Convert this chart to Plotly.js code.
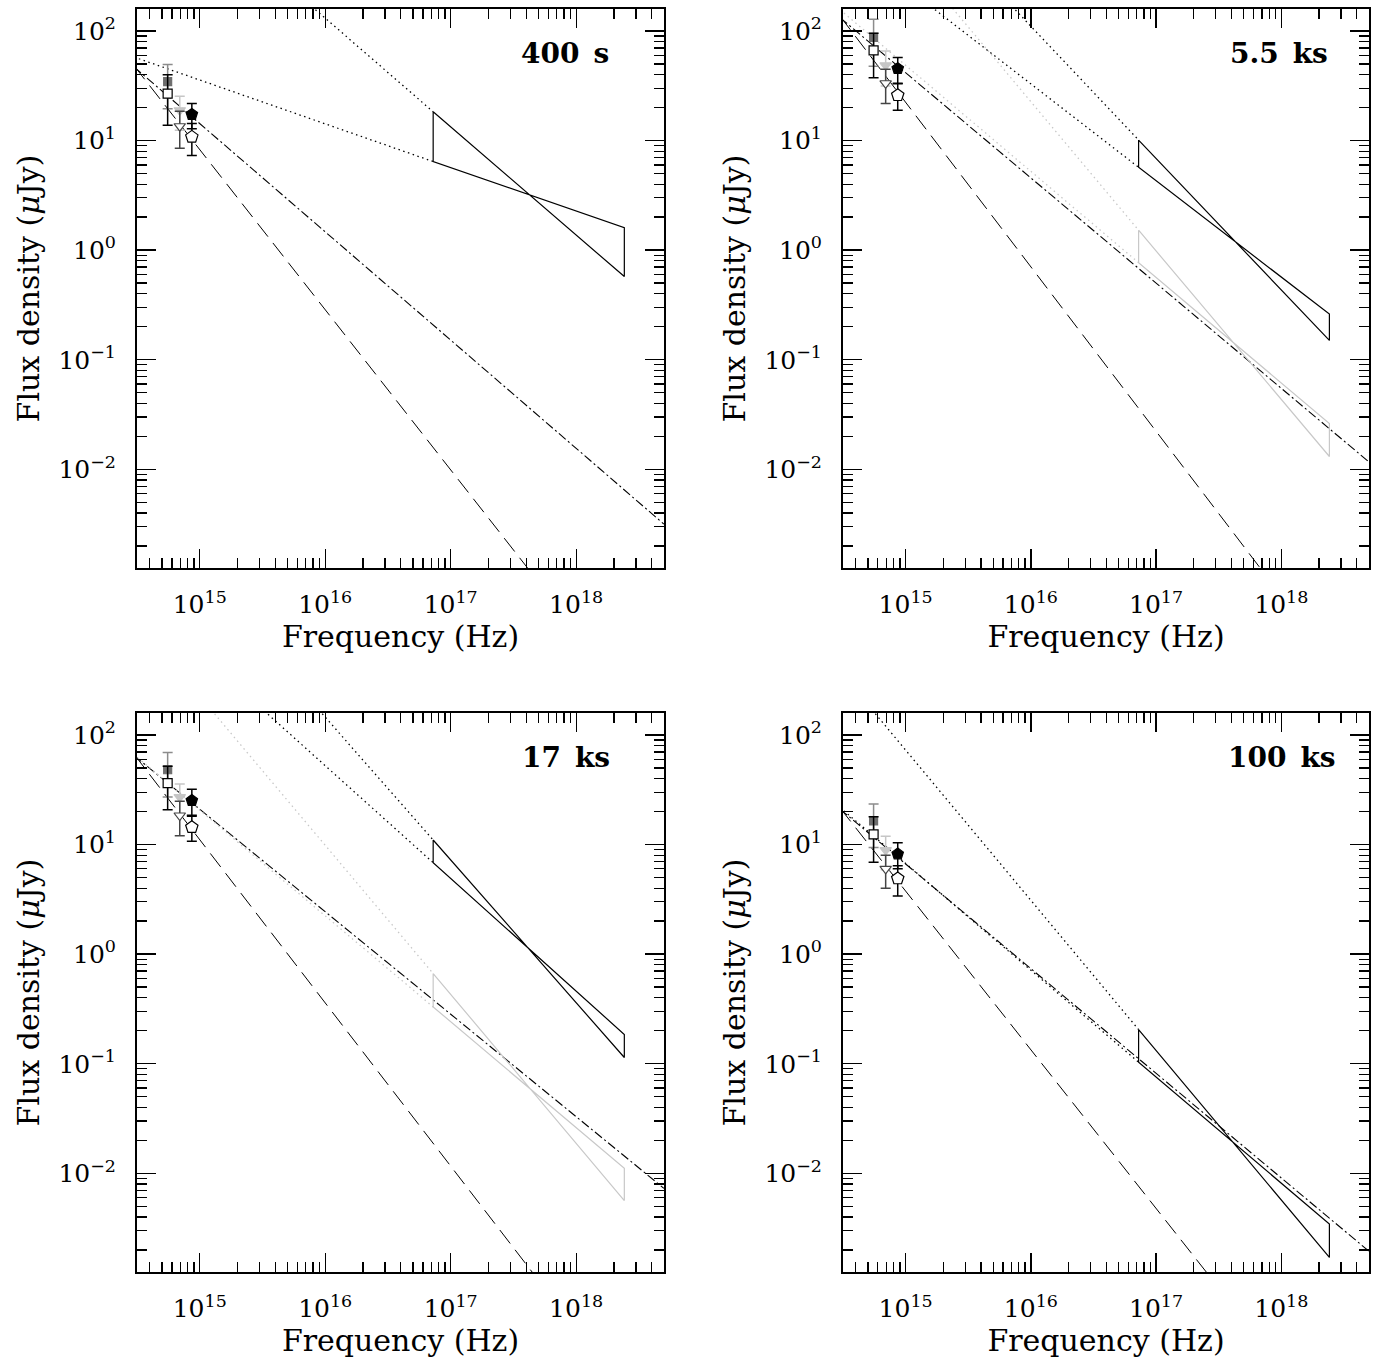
<!DOCTYPE html>
<html>
<head>
<meta charset="utf-8">
<script src="https://cdn.plot.ly/plotly-3.0.1.min.js"></script>
<style>
  html, body { margin: 0; padding: 0; background: #fff; }
  #chart { width: 1375px; height: 1359px; }
</style>
</head>
<body>
<div id="chart"></div>
<script>
/* global Plotly */
const panelLabels = ["400\u2002s", "5.5\u2002ks", "17\u2002ks", "100\u2002ks"];

// UVOT v, b, u frequencies (Hz)
const uvotNu = [5.55e14, 6.93e14, 8.65e14];

// filled symbols (observed) and open symbols (corrected), uJy, one row per panel
const obsFlux = [
  [34.5, 18.9, 17.3],
  [87.5, 48.5, 45.3],
  [48.1, 27.1, 25.2],
  [16.4, 8.9, 8.2],
];
const obsErr = [
  [15, 6.5, 4.5],
  [40, 17, 12],
  [21, 8.5, 6.7],
  [7, 3, 2.2],
];
const corrFlux = [
  [26.8, 13.5, 10.8],
  [66.4, 33.3, 25.9],
  [36.3, 18.4, 14.4],
  [12.4, 6.0, 4.9],
];
const corrErr = [
  [13, 5, 3.5],
  [29, 11.5, 7],
  [15.5, 6.4, 3.7],
  [5.5, 2, 1.5],
];

// X-ray band edges, 0.3 and 10 keV (Hz)
const xrayNu = [7.25e16, 2.42e18];
// bowtie edges: [flux at 0.3 keV, flux at 10 keV]
const bowSteep = [[18.3, 0.574], [10.1, 0.15], [11.0, 0.114], [0.205, 0.00171]];
const bowFlat = [[6.43, 1.6], [5.7, 0.261], [6.83, 0.185], [0.1035, 0.00345]];
const grayBowSteep = [null, [1.52, 0.0131], [0.665, 0.00564], null];
const grayBowFlat = [null, [0.769, 0.0262], [0.33, 0.0111], null];

// extrapolated lines start left of the frame, at this frequency
const lineStartNu = 3e14;
// dotted X-ray extrapolations: flux at lineStartNu, run to the bowtie corner
const dotSteepStart = [4250, 7600, 14000, 379];
const dotFlatStart = [57.7, 731, 1930, 21.7];
const grayDotSteepStart = [null, 2690, 1160, null];
const grayDotFlatStart = [null, 156, 66, null];

// dashed and dash-dot power laws through the optical points
const dashStart = [48, 136, 66.5, 21.5];
const dashEndNu = [4.8e17, 7.9e17, 5.2e17, 2.95e17];
const dashEndFlux = [0.001, 0.001, 0.001, 0.001];
const dashDotStart = [46.9, 132, 64.7, 21];
const dashDotEndNu = 5e18;
const dashDotEnd = [0.00317, 0.0117, 0.0073, 0.00195];

const xMajor = [1e15, 1e16, 1e17, 1e18];
const xMajorText = ["10<sup>15</sup>", "10<sup>16</sup>", "10<sup>17</sup>", "10<sup>18</sup>"];
const yMajor = [0.01, 0.1, 1, 10, 100];
const yMajorText = ["10<sup>\u22122</sup>", "10<sup>\u22121</sup>", "10<sup>0</sup>", "10<sup>1</sup>", "10<sup>2</sup>"];

const SERIF = "DejaVu Serif, Liberation Serif, serif";
const W = 1375;
const H = 1359;
const colPx = [[137, 664], [843, 1369]];
const rowPx = [[9, 568], [713, 1272]];
const labelRight = [474, 487, 475, 495];

function minorTicks(lo, hi) {
  const vals = [];
  for (let d = lo; d <= hi; d++) {
    for (let m = 2; m <= 9; m++) vals.push(m * Math.pow(10, d));
  }
  return vals;
}

const tickStyle = {
  showline: true,
  mirror: "ticks",
  linecolor: "black",
  linewidth: 2,
  ticks: "inside",
  ticklen: 19,
  tickwidth: 1.3,
  tickcolor: "black",
  showgrid: false,
  zeroline: false,
  automargin: false,
  tickfont: { family: SERIF, size: 25, color: "black" },
};

function xAxis(col, row) {
  return {
    ...tickStyle,
    type: "log",
    range: [14.5, 18.7],
    domain: [colPx[col][0] / W, colPx[col][1] / W],
    tickmode: "array",
    tickvals: xMajor,
    ticktext: xMajorText,
    ticklabelstandoff: 13,
    minor: {
      ticks: "inside",
      ticklen: 10,
      tickwidth: 1.3,
      tickcolor: "black",
      tickmode: "array",
      tickvals: minorTicks(14, 18),
    },
    title: {
      text: "Frequency (Hz)",
      font: { family: SERIF, size: 30, color: "black" },
      standoff: 8,
    },
  };
}

function yAxis(col, row) {
  return {
    ...tickStyle,
    type: "log",
    range: [-2.9, 2.2],
    domain: [1 - rowPx[row][1] / H, 1 - rowPx[row][0] / H],
    tickmode: "array",
    tickvals: yMajor,
    ticktext: yMajorText,
    ticklabelstandoff: 14,
    minor: {
      ticks: "inside",
      ticklen: 10,
      tickwidth: 1.3,
      tickcolor: "black",
      tickmode: "array",
      tickvals: minorTicks(-3, 2),
    },
    title: {
      text: "Flux density (<i>\u03bc</i>Jy)",
      font: { family: SERIF, size: 30, color: "black" },
      standoff: 10,
    },
  };
}

function lineTrace(ids, xs, ys, color, dash, width) {
  return {
    type: "scatter",
    mode: "lines",
    x: xs,
    y: ys,
    xaxis: ids.x,
    yaxis: ids.y,
    line: { color, width: width || 1, dash },
    hoverinfo: "skip",
    showlegend: false,
  };
}

function bowtie(ids, steep, flat, color) {
  return lineTrace(
    ids,
    [xrayNu[0], xrayNu[1], xrayNu[1], xrayNu[0], xrayNu[0]],
    [steep[0], steep[1], flat[1], flat[0], steep[0]],
    color,
    "solid",
    1.2,
  );
}

function pointTrace(ids, nu, flux, err, symbol, size, fill, edge, errColor) {
  return {
    type: "scatter",
    mode: "markers",
    x: [nu],
    y: [flux],
    xaxis: ids.x,
    yaxis: ids.y,
    marker: { symbol, size, color: fill, line: { color: edge, width: 1.2 } },
    error_y: { type: "data", array: [err], color: errColor, thickness: 1.5, width: 5 },
    cliponaxis: false,
    showlegend: false,
  };
}

// symbol looks for the v, b, u points
const filledStyle = [
  { symbol: "square", size: 8, fill: "#6e6e6e", edge: "#6e6e6e", err: "#8c8c8c" },
  { symbol: "triangle-down", size: 10, fill: "#c6c6c6", edge: "#c6c6c6", err: "#c6c6c6" },
  { symbol: "pentagon", size: 12, fill: "black", edge: "black", err: "black" },
];
const openStyle = [
  { symbol: "square", size: 9, fill: "white", edge: "black", err: "black" },
  { symbol: "triangle-down", size: 10, fill: "white", edge: "#444", err: "#444" },
  { symbol: "pentagon", size: 13, fill: "white", edge: "black", err: "black" },
];

const GRAY = "#c8c8c8";
const DASH = "17px,8px";
const DASHDOT = "9px,3px,2px,3px";
const DOT = "1.5px,3.5px";

const data = [];
const layout = {
  width: W,
  height: H,
  margin: { l: 0, r: 0, t: 0, b: 0 },
  paper_bgcolor: "white",
  plot_bgcolor: "white",
  showlegend: false,
  annotations: [],
};

for (let p = 0; p < 4; p++) {
  const col = p % 2;
  const row = Math.floor(p / 2);
  const n = p === 0 ? "" : String(p + 1);
  const ids = { x: "x" + n, y: "y" + n };
  layout["xaxis" + n] = { ...xAxis(col, row), anchor: ids.y };
  layout["yaxis" + n] = { ...yAxis(col, row), anchor: ids.x };

  data.push(lineTrace(ids, [lineStartNu, dashEndNu[p]], [dashStart[p], dashEndFlux[p]], "black", DASH, 1));
  data.push(lineTrace(ids, [lineStartNu, dashDotEndNu], [dashDotStart[p], dashDotEnd[p]], "black", DASHDOT, 1.1));

  if (grayBowSteep[p]) {
    data.push(lineTrace(ids, [lineStartNu, xrayNu[0]], [grayDotSteepStart[p], grayBowSteep[p][0]], GRAY, DOT, 1.3));
    data.push(lineTrace(ids, [lineStartNu, xrayNu[0]], [grayDotFlatStart[p], grayBowFlat[p][0]], GRAY, DOT, 1.3));
    data.push(bowtie(ids, grayBowSteep[p], grayBowFlat[p], GRAY));
  }
  data.push(lineTrace(ids, [lineStartNu, xrayNu[0]], [dotSteepStart[p], bowSteep[p][0]], "black", DOT, 1.3));
  data.push(lineTrace(ids, [lineStartNu, xrayNu[0]], [dotFlatStart[p], bowFlat[p][0]], "black", DOT, 1.3));
  data.push(bowtie(ids, bowSteep[p], bowFlat[p], "black"));

  uvotNu.forEach((nu, k) => {
    const f = filledStyle[k];
    const o = openStyle[k];
    data.push(pointTrace(ids, nu, obsFlux[p][k], obsErr[p][k], f.symbol, f.size, f.fill, f.edge, f.err));
    data.push(pointTrace(ids, nu, corrFlux[p][k], corrErr[p][k], o.symbol, o.size, o.fill, o.edge, o.err));
  });

  layout.annotations.push({
    xref: ids.x + " domain",
    yref: ids.y + " domain",
    x: labelRight[p] / (colPx[col][1] - colPx[col][0]),
    y: 1 - 44 / (rowPx[row][1] - rowPx[row][0]),
    xanchor: "right",
    yanchor: "middle",
    text: "<b>" + panelLabels[p] + "</b>",
    showarrow: false,
    font: { family: SERIF, size: 28, color: "black" },
  });
}

Plotly.newPlot(document.getElementById("chart"), data, layout, {
  staticPlot: true,
  displayModeBar: false,
});
</script>
</body>
</html>
